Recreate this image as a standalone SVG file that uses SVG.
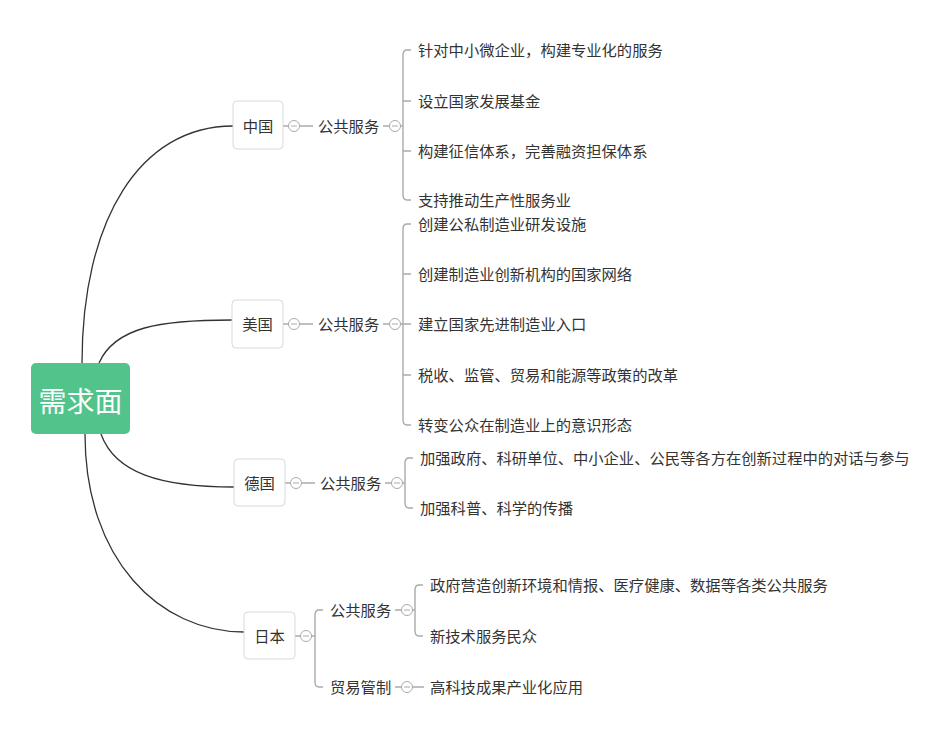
<svg xmlns="http://www.w3.org/2000/svg" width="950" height="738" viewBox="0 0 950 738">
<style>
text{font-family:"Microsoft YaHei","Noto Sans CJK SC","Noto Sans",sans-serif;fill:#333;}
.t{font-size:15.3px;}
.n{font-size:15.3px;text-anchor:middle;}
.box{fill:#fff;stroke:#d9d9d9;stroke-width:1;}
.main{fill:none;stroke:#333;stroke-width:1.3;}
.br{fill:none;stroke:#aaa;stroke-width:1.4;}
.c{fill:#fff;stroke:#aaa;stroke-width:1;}
.m{stroke:#aaa;stroke-width:1;}
</style>
<rect width="950" height="738" fill="#fff"/>
<g id="connectors">
<path class="main" d="M82,363 C82,220 140,126 233,126"/>
<path class="main" d="M99,363 C115,327 160,320 232,320"/>
<path class="main" d="M101,434 C115,473 160,487 234,487"/>
<path class="main" d="M85,434 C85,560 160,632 244,632"/>
<path class="br" d="M283,126 H288 M300,126 H313 M383,126 H389 M400,126 H403"/>
<path class="br" d="M411,50 H407 Q403,50 403,55 V195 Q403,200 407,200 H411 M403,101 H411 M403,151 H411"/>
<path class="br" d="M283,324 H288 M300,324 H313 M383,324 H389 M400,324 H403"/>
<path class="br" d="M411,224 H407 Q403,224 403,229 V420 Q403,425 407,425 H411 M403,274 H411 M403,324 H411 M403,375 H411"/>
<path class="br" d="M285,483 H290 M302,483 H315 M385,483 H391 M402,483 H405"/>
<path class="br" d="M413,458 H409 Q405,458 405,463 V503 Q405,508 409,508 H413"/>
<path class="br" d="M295,636 H300 M312,636 H315"/>
<path class="br" d="M323,610 H319 Q315,610 315,615 V682 Q315,687 319,687 H323"/>
<path class="br" d="M395,610 H401 M412,610 H415"/>
<path class="br" d="M423,585 H419 Q415,585 415,590 V631 Q415,636 419,636 H423"/>
<path class="br" d="M395,687 H401 M412,687 H424"/>
</g>
<g id="root">
<rect x="31" y="363" width="99" height="71" rx="5" fill="#52c38a"/>
<text x="80.5" y="412" font-size="28" text-anchor="middle" style="fill:#fff">需求面</text>
</g>
<g id="cn">
<rect class="box" x="233" y="101" width="50" height="48" rx="4"/>
<text class="n" x="258" y="131.5">中国</text>
<circle class="c" cx="294" cy="126" r="5.5"/><line class="m" x1="291" y1="126" x2="297" y2="126"/>
<text class="t" x="318" y="131.5">公共服务</text>
<circle class="c" cx="395" cy="126" r="5.5"/><line class="m" x1="392" y1="126" x2="398" y2="126"/>
<text class="t" x="418" y="56">针对中小微企业，构建专业化的服务</text>
<text class="t" x="418" y="107">设立国家发展基金</text>
<text class="t" x="418" y="157">构建征信体系，完善融资担保体系</text>
<text class="t" x="418" y="206">支持推动生产性服务业</text>
</g>
<g id="us">
<rect class="box" x="232" y="300" width="51" height="48" rx="4"/>
<text class="n" x="257.5" y="329.5">美国</text>
<circle class="c" cx="294" cy="324" r="5.5"/><line class="m" x1="291" y1="324" x2="297" y2="324"/>
<text class="t" x="318" y="329.5">公共服务</text>
<circle class="c" cx="395" cy="324" r="5.5"/><line class="m" x1="392" y1="324" x2="398" y2="324"/>
<text class="t" x="418" y="230">创建公私制造业研发设施</text>
<text class="t" x="418" y="280">创建制造业创新机构的国家网络</text>
<text class="t" x="418" y="330">建立国家先进制造业入口</text>
<text class="t" x="418" y="381">税收、监管、贸易和能源等政策的改革</text>
<text class="t" x="418" y="431">转变公众在制造业上的意识形态</text>
</g>
<g id="de">
<rect class="box" x="234" y="459" width="51" height="47" rx="4"/>
<text class="n" x="259.5" y="488.5">德国</text>
<circle class="c" cx="296" cy="483" r="5.5"/><line class="m" x1="293" y1="483" x2="299" y2="483"/>
<text class="t" x="320" y="488.5">公共服务</text>
<circle class="c" cx="397" cy="483" r="5.5"/><line class="m" x1="394" y1="483" x2="400" y2="483"/>
<text class="t" x="420" y="464">加强政府、科研单位、中小企业、公民等各方在创新过程中的对话与参与</text>
<text class="t" x="420" y="514">加强科普、科学的传播</text>
</g>
<g id="jp">
<rect class="box" x="244" y="612" width="51" height="47" rx="4"/>
<text class="n" x="269.5" y="641.5">日本</text>
<circle class="c" cx="306" cy="636" r="5.5"/><line class="m" x1="303" y1="636" x2="309" y2="636"/>
<text class="t" x="330" y="615.5">公共服务</text>
<circle class="c" cx="407" cy="610" r="5.5"/><line class="m" x1="404" y1="610" x2="410" y2="610"/>
<text class="t" x="330" y="692.5">贸易管制</text>
<circle class="c" cx="407" cy="687" r="5.5"/><line class="m" x1="404" y1="687" x2="410" y2="687"/>
<text class="t" x="430" y="591">政府营造创新环境和情报、医疗健康、数据等各类公共服务</text>
<text class="t" x="430" y="642">新技术服务民众</text>
<text class="t" x="430" y="693">高科技成果产业化应用</text>
</g>
</svg>
